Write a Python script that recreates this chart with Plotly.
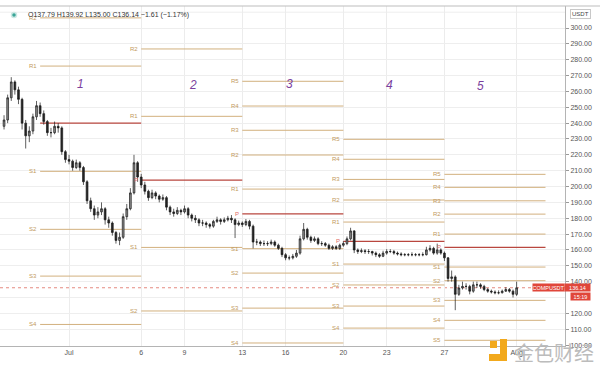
import plotly.graph_objects as go
import pandas as pd

# ---------------- data ----------------
candle_start = "2020-06-26 12:00"
candle_step = "6h"
first_open = 238

closes = [242, 256, 266, 261, 255, 240, 232, 235, 244, 251,
          246, 241, 234, 234, 238, 237, 222, 217, 216, 212,
          215, 212, 203, 191, 186, 182, 184, 186, 179, 177,
          171, 166, 168, 181, 186, 196, 215, 206, 201, 197,
          193, 196, 194, 192, 193, 187, 184, 183, 185, 184,
          186, 182, 180, 179, 177, 177, 176, 175, 178, 179,
          178, 179, 180, 179, 176, 177, 176, 178, 175, 165,
          165, 164, 164, 164, 165, 163, 161, 157, 155, 155,
          156, 158, 167, 173, 168, 166, 167, 164, 164, 163,
          161, 162, 161, 163, 164, 167, 172, 160, 159, 159.5,
          159, 159, 158, 157, 156, 158, 159, 159, 158, 157.5,
          157, 157, 157, 157, 157, 157, 157, 160, 161, 158,
          160, 158, 155, 142, 143, 132, 136, 137, 137, 134,
          138, 138, 137, 135, 134, 133.5, 133, 133, 134, 135,
          134, 132, 136.14]

highs = [245, 258, 269, 267, 263, 256, 242, 238, 246, 254,
         253, 248, 242, 237, 241, 240, 238, 223, 220, 217,
         217, 216, 213, 204, 193, 188, 187, 190, 187, 181,
         178, 172, 171, 183, 189, 199, 220, 216, 208, 203,
         198, 198, 197, 195, 195, 194, 188, 186, 187, 186,
         188, 187, 183, 182, 180, 179, 178, 177, 179, 181,
         180, 180.5, 181.5, 182, 180, 178.5, 178, 179.5, 179, 176,
         167, 166, 166, 165.5, 166.5, 166, 164, 162, 158, 156.5,
         157.5, 160, 169, 177, 174, 169, 168.5, 168, 165.5, 165,
         164, 163, 163, 164, 165.5, 168.5, 174, 172.5, 161, 161,
         160.5, 160.5, 159.5, 159, 158, 159.5, 160.5, 160.5, 160, 159,
         158.5, 158, 158, 158.5, 158, 158, 158.5, 162, 163, 162,
         164, 161, 159, 155.5, 147, 144, 138, 140, 139, 138,
         140, 140, 139, 138, 136, 135, 134.5, 134.5, 135, 136.5,
         136, 135, 140]

lows = [236, 240, 254, 258, 252, 236, 224, 228, 233, 242,
        244, 239, 232, 231, 233, 234, 220, 215, 214, 210,
        211, 210, 201, 189, 184, 179, 180, 182, 176, 174,
        169, 164, 163, 167, 179, 185, 195, 203, 199, 195,
        191, 192, 192, 190, 191, 185, 182, 181, 182, 182,
        183, 180, 178, 177, 175, 175, 174, 173.5, 174, 177,
        176, 177, 178, 177, 167.5, 175, 174.5, 175, 173, 161,
        163, 162.5, 162.5, 162.5, 163, 162, 160, 155.5, 153.5, 153.5,
        154, 155, 157, 166, 166.5, 164.5, 165, 163, 162.5, 162,
        160, 160, 160, 160, 162, 163, 166, 158, 157.5, 158,
        157.5, 157.5, 156.5, 155.5, 155, 155.5, 157, 158, 157, 156.5,
        156, 156, 156, 156, 156, 156, 156, 156.5, 159, 157,
        157, 157, 153, 140, 140, 122, 131, 135, 135, 132,
        133, 136, 135.5, 134, 133, 132.5, 132, 132, 132.5, 133.5,
        133, 130, 131]

week_starts = ["2020-06-29", "2020-07-06", "2020-07-13", "2020-07-20", "2020-07-27"]
week_ends = ["2020-07-06", "2020-07-13", "2020-07-20", "2020-07-27", "2020-08-03"]
week_numbers = ["1", "2", "3", "4", "5"]

level_R5 = [None, None, 266.4, 229.8, 207.7]
level_R4 = [None, None, 250.8, 217.2, 199.5]
level_R3 = [None, None, 235.5, 204.5, 191.0]
level_R2 = [306.4, 286.8, 219.9, 191.5, 182.6]
level_R1 = [276.0, 244.3, 198.4, 177.6, 170.0]
level_P = [240.0, 204.0, 182.8, 165.4, 161.6]
level_S1 = [209.6, 161.6, 160.8, 151.1, 149.2]
level_S2 = [173.0, 121.5, 145.4, 137.9, 140.6]
level_S3 = [143.5, None, 123.3, 124.6, 128.2]
level_S4 = [113.0, None, 101.3, 110.7, 115.6]
level_S5 = [None, None, None, None, 103.0]

tick_dates = ["2020-07-01", "2020-07-06", "2020-07-09", "2020-07-13", "2020-07-16",
              "2020-07-20", "2020-07-23", "2020-07-27", "2020-08-01"]
tick_labels = ["Jul", "6", "9", "13", "16", "20", "23", "27", "Aug"]

price_grid = [100, 110, 120, 130, 140, 150, 160, 170, 180, 190, 200, 210,
              220, 230, 240, 250, 260, 270, 280, 290, 300, 310]
price_hidden_labels = [130, 310]   # covered by the price tag / USDT tag

last_price = 136.14
symbol = "COMPUSDT"
countdown = "15:19"
header_text = "O137.79 H139.92 L135.00 C136.14 \u22121.61 (\u22121.17%)"

# ---------------- figure ----------------
FONT = "Liberation Sans, Arial, sans-serif"
W, H = 600, 366
ML, MR, MT, MB = 0, 35, 6, 20
PW, PH = W - ML - MR, H - MT - MB
GRID_C = "#eeeeee"


def px(x):
    return (x - ML) / PW


def py(y):
    return (MT + PH - y) / PH


opens = [first_open] + closes[:-1]
times = pd.date_range(candle_start, periods=len(closes), freq=candle_step)

fig = go.Figure()
fig.add_trace(go.Candlestick(
    x=times, open=opens, high=highs, low=lows, close=closes,
    increasing=dict(line=dict(color="#1a1a1a", width=0.7), fillcolor="#8c8c8c"),
    decreasing=dict(line=dict(color="#1a1a1a", width=0.7), fillcolor="#262626"),
    whiskerwidth=0, hoverinfo="skip", showlegend=False,
))

levels = {
    "R5": level_R5, "R4": level_R4, "R3": level_R3, "R2": level_R2, "R1": level_R1,
    "P": level_P, "S1": level_S1, "S2": level_S2, "S3": level_S3, "S4": level_S4,
    "S5": level_S5,
}

shapes = []
annotations = []
LINE_C = "#d2b07e"
LABEL_C = "#c29a5e"
P_C = "#b9473f"
P_LABEL_C = "#e06a66"

# gridlines for prices whose tick labels are hidden
for v in price_hidden_labels:
    shapes.append(dict(type="line", xref="paper", yref="y", x0=0, x1=1, y0=v, y1=v,
                       line=dict(color=GRID_C, width=1), layer="below"))

for name, vals in levels.items():
    for w, v in enumerate(vals):
        if v is None:
            continue
        is_p = name == "P"
        shapes.append(dict(type="line", xref="x", yref="y",
                           x0=week_starts[w], x1=week_ends[w], y0=v, y1=v,
                           line=dict(color=P_C if is_p else LINE_C, width=1.3 if is_p else 1),
                           layer="between"))
        if is_p and w == 0:
            continue
        annotations.append(dict(x=week_starts[w], y=v, xref="x", yref="y",
                                text=name, showarrow=False, xanchor="right",
                                yanchor="middle", xshift=-1,
                                font=dict(size=6, color=P_LABEL_C if is_p else LABEL_C,
                                          family=FONT)))

# current price dotted line
shapes.append(dict(type="line", xref="paper", yref="y", x0=0, x1=1,
                   y0=last_price, y1=last_price,
                   line=dict(color="#e58a80", width=1, dash="dot"), layer="between"))

# top border
shapes.append(dict(type="line", xref="paper", yref="paper", x0=0, x1=px(600),
                   y0=py(6), y1=py(6), line=dict(color="#bdbdbd", width=1)))

# header dot
shapes.append(dict(type="circle", xref="paper", yref="paper",
                   x0=px(11.5), x1=px(16.5), y0=py(17.5), y1=py(12.5),
                   fillcolor="#3aa597", line=dict(color="#cde8e4", width=1.5)))

# watermark logo
LOGO_C = "#f2a91d"
for (x0, y0, x1, y1) in [(490, 341, 497, 348), (500, 339, 507, 361), (489, 354, 507, 361)]:
    shapes.append(dict(type="rect", xref="paper", yref="paper",
                       x0=px(x0), x1=px(x1), y0=py(y1), y1=py(y0),
                       fillcolor=LOGO_C, line=dict(width=0)))


def paper_note(x, y, text, **kw):
    d = dict(x=px(x), y=py(y), xref="paper", yref="paper", text=text,
             showarrow=False, xanchor="center", yanchor="middle")
    d.update(kw)
    annotations.append(d)


# week numbers
num_px = [(80, 84), (193, 85), (289, 84), (389, 85), (481, 86)]
for t, (xx, yy) in zip(week_numbers, num_px):
    paper_note(xx, yy, f"<i>{t}</i>", font=dict(size=12, color="#7b3f9e", family=FONT))

# header text
paper_note(26, 14.5, header_text, xanchor="left",
           font=dict(size=7, color="#333333", family=FONT))

# USDT tag
paper_note(580, 14, "USDT", bgcolor="white", bordercolor="#c8c8c8", borderwidth=1,
           borderpad=1, font=dict(size=6, color="#444444", family=FONT))

# price tags
TAG_C = "#e0463a"
paper_note(548, 287.5, symbol, bgcolor=TAG_C, width=31, height=7, borderpad=0,
           font=dict(size=5.5, color="white", family=FONT))
paper_note(577.5, 287.5, f"{last_price:.2f}", bgcolor=TAG_C, width=25, height=7,
           borderpad=0, font=dict(size=5.5, color="white", family=FONT))
paper_note(580.5, 296.5, countdown, bgcolor=TAG_C, width=19, height=7, borderpad=0,
           font=dict(size=5.5, color="white", family=FONT))

# watermark text
paper_note(554, 352, "金色财经", font=dict(size=20, color="#bcbcbc", family="Noto Sans CJK SC"))

shown_ticks = [v for v in price_grid if v not in price_hidden_labels]

fig.update_layout(
    width=W, height=H,
    margin=dict(l=ML, r=MR, t=MT, b=MB, autoexpand=False),
    paper_bgcolor="white", plot_bgcolor="white",
    showlegend=False,
    shapes=shapes, annotations=annotations,
    font=dict(family=FONT, size=7, color="#555555"),
    xaxis=dict(
        type="date", range=["2020-06-26 05:17", "2020-08-04 08:24"],
        tickvals=tick_dates, ticktext=tick_labels,
        showgrid=True, gridcolor="#ececec", gridwidth=1,
        showline=True, linecolor="#b4b4b4", linewidth=1,
        ticks="", tickfont=dict(size=7, color="#555555"),
        rangeslider=dict(visible=False), zeroline=False, automargin=False,
    ),
    yaxis=dict(
        side="right", range=[99.4, 313.9], tickvals=shown_ticks,
        ticktext=[f"{v:.2f}" for v in shown_ticks],
        showgrid=True, gridcolor=GRID_C, gridwidth=1,
        ticks="outside", ticklen=3, tickcolor="#9a9a9a",
        showline=True, linecolor="#b4b4b4", linewidth=1,
        tickfont=dict(size=7, color="#555555"), zeroline=False, automargin=False,
    ),
)

fig.write_html("out.html", config={"displayModeBar": False},
               post_script="document.body.style.margin='0';document.body.style.overflow='hidden';")
